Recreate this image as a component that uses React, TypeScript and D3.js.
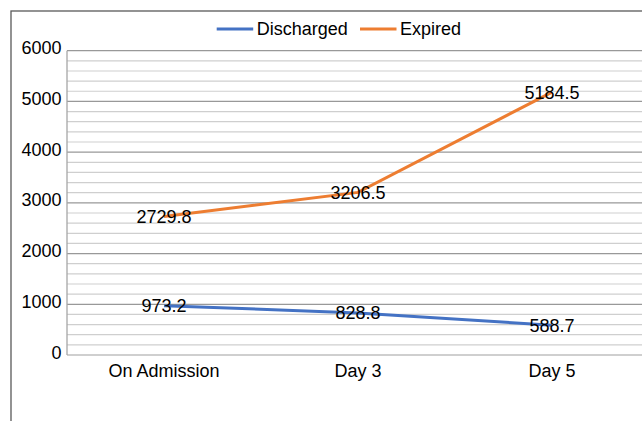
import React from "react";
import * as d3 from "d3";

const categories = ["On Admission", "Day 3", "Day 5"];
const discharged = [973.2, 828.8, 588.7];
const expired = [2729.8, 3206.5, 5184.5];
const majorTicks = [0, 1000, 2000, 3000, 4000, 5000, 6000];
const seriesNames = ["Discharged", "Expired"];
const seriesColors = ["#4472C4", "#ED7D31"];

const W = 642;
const H = 421;
const plotLeft = 67;
const plotRight = 649;
const plotTop = 50.7;
const plotBottom = 355;
const FONT = "'Liberation Sans', Arial, sans-serif";

export default function App() {
  const x = d3.scaleBand<string>().domain(categories).range([plotLeft, plotRight]);
  const y = d3.scaleLinear().domain([0, 6000]).range([plotBottom, plotTop]);
  const minorTicks = d3.range(0, 6001, 200).filter((v) => v % 1000 !== 0);
  const cx = (c: string) => (x(c) as number) + x.bandwidth() / 2;
  const line = d3
    .line<number>()
    .x((_, i) => cx(categories[i]))
    .y((d) => y(d));
  const series = [discharged, expired];

  return (
    <svg
      width={W}
      height={H}
      style={{ position: "fixed", left: 0, top: 0, background: "#fff" }}
      fontFamily={FONT}
    >
      <rect x={0} y={0} width={W} height={H} fill="#fff" />
      <rect x={11} y={11} width={800} height={600} fill="none" stroke="#595959" strokeWidth={1.3} />
      {minorTicks.map((t) => (
        <line key={"m" + t} x1={plotLeft} x2={W} y1={y(t)} y2={y(t)} stroke="#cfcfcf" strokeWidth={1.2} />
      ))}
      {majorTicks.map((t) => (
        <line key={"M" + t} x1={plotLeft} x2={W} y1={y(t)} y2={y(t)} stroke={t === 0 ? "#a0a0a0" : "#999"} strokeWidth={1.2} />
      ))}
      <line x1={plotLeft} x2={plotLeft} y1={plotTop} y2={plotBottom} stroke="#a6a6a6" strokeWidth={1.3} />
      {majorTicks.map((t) => (
        <text key={"t" + t} x={61.5} y={y(t)} dy="0.2em" textAnchor="end" fontSize={18} fill="#000">
          {t}
        </text>
      ))}
      {categories.map((c) => (
        <text key={c} x={cx(c)} y={377} textAnchor="middle" fontSize={18} fill="#000">
          {c}
        </text>
      ))}
      {series.map((s, si) => (
        <path key={"p" + si} d={line(s) as string} fill="none" stroke={seriesColors[si]} strokeWidth={3} />
      ))}
      {series.map((s, si) =>
        s.map((v, i) => (
          <text key={"l" + si + i} x={cx(categories[i])} y={y(v)} dy="0.36em" textAnchor="middle" fontSize={18} fill="#000">
            {v.toFixed(1)}
          </text>
        ))
      )}
      {seriesNames.map((n, i) => {
        const lx = [216.7, 360][i];
        return (
          <g key={n}>
            <line x1={lx} x2={lx + 36.5} y1={29} y2={29} stroke={seriesColors[i]} strokeWidth={3} />
            <text x={lx + 40} y={29} dy="0.36em" fontSize={18} fill="#000">
              {n}
            </text>
          </g>
        );
      })}
    </svg>
  );
}
